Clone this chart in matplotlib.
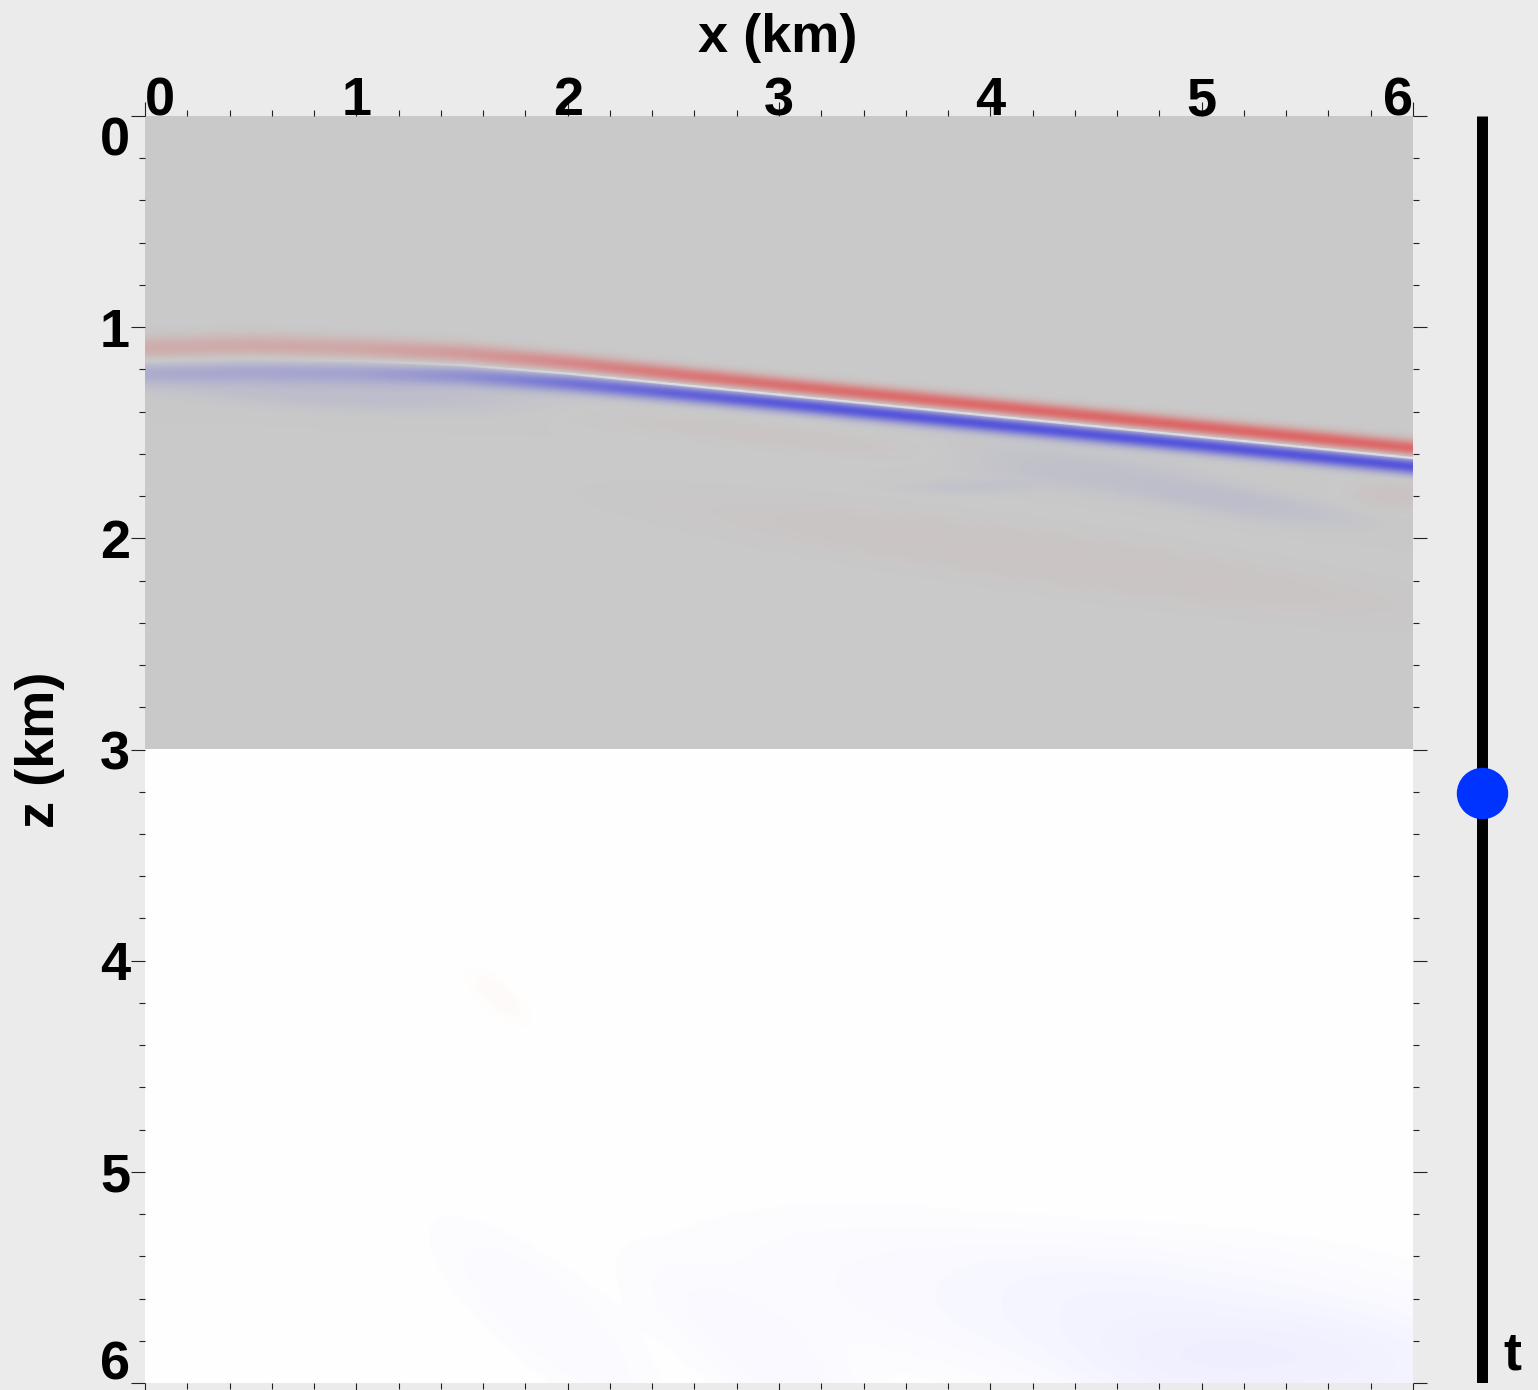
import numpy as np
import matplotlib
matplotlib.use("Agg")
import matplotlib.pyplot as plt
from matplotlib.colors import LinearSegmentedColormap
from matplotlib.collections import LineCollection
from matplotlib.ticker import MultipleLocator
from matplotlib.transforms import ScaledTranslation

# reflector picked off the snapshot (km): zero crossing between red and blue lobes
refl_x = [0.0, 0.5, 1.0, 1.5, 2.0, 2.5, 3.0, 3.5, 4.0, 4.5, 5.0, 5.5, 6.0]
refl_z = [1.16, 1.15, 1.16, 1.18, 1.22, 1.27, 1.32, 1.37, 1.42, 1.47, 1.52, 1.57, 1.62]
red_amp = [0.28, 0.30, 0.33, 0.45, 0.62, 0.78, 0.86, 0.90, 0.92, 0.94, 0.95, 0.95, 0.92]
blue_amp = [0.22, 0.25, 0.30, 0.48, 0.72, 0.88, 0.96, 1.0, 1.0, 1.0, 1.0, 1.0, 1.0]
lobe_width = [0.038, 0.038, 0.036, 0.033, 0.030, 0.028, 0.027, 0.027, 0.027, 0.027, 0.027, 0.027, 0.027]

# faint residual patches: centre x, centre z, half-length, half-width, tilt (deg), amplitude (+red / -blue)
patch_x = [0.9, 4.5, 5.3, 3.9, 4.3, 5.9, 3.0, 1.67, 1.9, 3.9, 5.2, 5.4, 3.0]
patch_z = [1.31, 1.70, 1.86, 1.76, 2.10, 1.80, 1.52, 4.17, 5.70, 5.60, 5.70, 6.00, 5.95]
patch_a = [0.75, 0.60, 0.40, 0.25, 1.50, 0.15, 0.80, 0.16, 0.55, 1.10, 1.00, 0.80, 0.60]
patch_b = [0.07, 0.08, 0.06, 0.03, 0.12, 0.06, 0.05, 0.07, 0.18, 0.30, 0.30, 0.25, 0.18]
patch_ang = [3, 8, 8, 0, 8, 0, 6, 40, 40, 8, 5, 0, 35]
patch_amp = [-0.10, -0.08, -0.07, -0.06, 0.045, 0.06, 0.04, 0.02, -0.022, -0.025, -0.03, -0.04, -0.025]

x_ticks = [0, 1, 2, 3, 4, 5, 6]
z_ticks = [0, 1, 2, 3, 4, 5, 6]
t_frac = 0.534   # position of the time slider

FONT = "Liberation Sans"
FS = 39

# build the snapshot on a grid
xs = np.linspace(0, 6, 601)
zs = np.linspace(0, 6, 601)
xx, zz = np.meshgrid(xs, zs)

z0 = np.interp(xs, refl_x, refl_z)
ra = np.interp(xs, refl_x, red_amp)
ba = np.interp(xs, refl_x, blue_amp)
sw = np.interp(xs, refl_x, lobe_width)
off = 1.6 * sw
dz = zz - z0[None, :]
field = (ra * np.exp(-(dz + off) ** 2 / (2 * sw ** 2))
         - ba * np.exp(-(dz - off) ** 2 / (2 * sw ** 2)))

for cx, cz, a, b, ang, amp in zip(patch_x, patch_z, patch_a, patch_b, patch_ang, patch_amp):
    th = np.deg2rad(ang)
    u = (xx - cx) * np.cos(th) + (zz - cz) * np.sin(th)
    v = -(xx - cx) * np.sin(th) + (zz - cz) * np.cos(th)
    field += amp * np.exp(-0.5 * ((u / a) ** 2 + (v / b) ** 2) ** 1.5)

half = len(zs) // 2
top_cmap = LinearSegmentedColormap.from_list(
    "top", [(0.33, 0.33, 0.86), (0.79, 0.79, 0.79), (0.87, 0.38, 0.38)])
bot_cmap = LinearSegmentedColormap.from_list(
    "bot", [(0.15, 0.15, 1.0), (1.0, 1.0, 1.0), (1.0, 0.15, 0.15)])

fig = plt.figure(figsize=(15.38, 13.9), dpi=100, facecolor="#ebebeb")
ax = fig.add_axes([145 / 1538, 1 - 1383 / 1390, 1268 / 1538, 1267 / 1390])
ax.imshow(field[:half + 1], extent=[0, 6, 3, 0], cmap=top_cmap, vmin=-1, vmax=1,
          aspect="auto", interpolation="bilinear")
ax.imshow(field[half:], extent=[0, 6, 6, 3], cmap=bot_cmap, vmin=-1, vmax=1,
          aspect="auto", interpolation="bilinear")

# light seam at the zero crossing
pts = np.column_stack([xs, z0]).reshape(-1, 1, 2)
segs = np.concatenate([pts[:-1], pts[1:]], axis=1)
seam_alpha = np.clip((ba[:-1] - 0.25) * 0.8, 0, 0.5)
lc = LineCollection(segs, colors=[(1, 1, 1, a_) for a_ in seam_alpha], linewidths=1.6)
ax.add_collection(lc)

ax.set_xlim(0, 6)
ax.set_ylim(6, 0)
for s in ax.spines.values():
    s.set_visible(False)

ax.xaxis.set_minor_locator(MultipleLocator(0.2))
ax.yaxis.set_minor_locator(MultipleLocator(0.2))
ax.set_xticks(x_ticks)
ax.set_yticks(z_ticks)
ax.tick_params(which="both", direction="out", top=True, bottom=True, left=True, right=True,
               labeltop=True, labelbottom=False, labelleft=True, labelright=False,
               width=0.8, color="#222222")
ax.tick_params(which="major", length=10)
ax.tick_params(which="minor", length=4.3)
ax.tick_params(axis="x", which="major", pad=-17.5)
ax.tick_params(axis="y", which="major", pad=0.8)
ax.set_xticklabels([str(v) for v in x_ticks], fontsize=FS, fontweight="bold", family=FONT)
ax.set_yticklabels([str(v) for v in z_ticks], fontsize=FS, fontweight="bold", family=FONT)
xl = ax.get_xticklabels()
xl[0].set_ha("left")
xl[-1].set_ha("right")
yl = ax.get_yticklabels()
yl[0].set_va("top")
yl[-1].set_va("baseline")
yl[-1].set_transform(yl[-1].get_transform() + ScaledTranslation(0, 3 / 100, fig.dpi_scale_trans))

fig.text(778 / 1538, 1 - 52 / 1390, "x (km)", ha="center", va="baseline",
         fontsize=FS, fontweight="bold", family=FONT)
fig.text(40 / 1538, 1 - 750 / 1390, "z (km)", ha="center", va="center", rotation=90,
         fontsize=FS, fontweight="bold", family=FONT)

# time slider
sax = fig.add_axes([1440 / 1538, 1 - 1383 / 1390, 84 / 1538, 1267 / 1390])
sax.set_xlim(0, 1)
sax.set_ylim(1, 0)
sax.axis("off")
sax.plot([0.5, 0.5], [0, 1], color="black", lw=7.9, solid_capstyle="butt")
sax.plot([0.5], [t_frac], "o", ms=36, color="#0033ff", clip_on=False)
fig.text(1512 / 1538, 1 - 1369 / 1390, "t", ha="center", va="baseline",
         fontsize=FS, fontweight="bold", family=FONT)

fig.savefig("out.png", dpi=100, facecolor=fig.get_facecolor())
